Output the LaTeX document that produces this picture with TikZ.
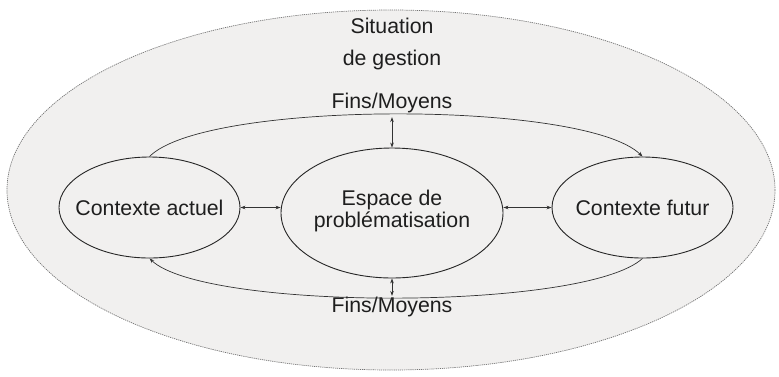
\documentclass[tikz,border=0pt]{standalone}
\usepackage{fontspec}
\setmainfont{Liberation Sans}
\usetikzlibrary{shapes.geometric,arrows.meta,calc}
\definecolor{bgfill}{HTML}{F1F0EF}
\definecolor{txt}{HTML}{1E1E1E}
\begin{document}
\begin{tikzpicture}[x=1pt,y=-1pt,
  lbl/.style={font=\fontsize{21.3}{21.5}\selectfont,text=txt,inner sep=0pt,align=center},
  ctx/.style={ellipse,draw=black!85,line width=0.9pt,inner sep=0pt},
  link/.style={draw=black!80,line width=0.7pt},
  tip/.style={-{Stealth[length=5pt,width=3.6pt]}},
  dtip/.style={{Stealth[length=5pt,width=3.6pt]}-{Stealth[length=5pt,width=3.6pt]}}]
\useasboundingbox (0,0) rectangle (779,376);
\node[ellipse,draw=black!55,fill=bgfill,line width=0.7pt,
      dash pattern=on 1.2pt off 0.9pt,minimum width=768pt,minimum height=360pt,inner sep=0pt]
      (S) at (391,190) {};
\node[lbl] (t1) at (392,25.5) {Situation};
\node[lbl,anchor=base] (t2) at (392,65) {de gestion};
\node[lbl,anchor=base] (fm1) at (392,108) {Fins/Moyens};
\node[lbl,anchor=base] (fm2) at (392,312) {Fins/Moyens};
\node[ctx,minimum width=181pt,minimum height=101pt] (L) at (149.5,207.5) {};
\node[ctx,minimum width=222pt,minimum height=130pt] (C) at (392,213) {};
\node[ctx,minimum width=181pt,minimum height=101pt] (R) at (642.5,207.5) {};
\node[lbl] (Lt) at (L.center) {Contexte actuel};
\node[lbl] (Ct) at ($(C.center)+(0,-2)$) {Espace de\\probl\'ematisation};
\node[lbl] (Rt) at (R.center) {Contexte futur};
% upper loop
\draw[link,tip] (L.north) .. controls (205,100) and (585,100) .. coordinate[pos=0.5] (up) (R.north);
% lower loop
\draw[link,tip] (R.south) .. controls (585,311) and (205,311) .. coordinate[pos=0.5] (dn) (L.south);
% vertical arrows
\draw[link,dtip,shorten <=3pt] (C.north |- up) -- (C.north);
\draw[link,dtip,shorten <=2pt] (C.south |- dn) -- (C.south);
% horizontal arrows
\draw[link,dtip] (L.east) -- (L.east -| C.west);
\draw[link,dtip] (R.west -| C.east) -- (R.west);
\end{tikzpicture}
\end{document}
